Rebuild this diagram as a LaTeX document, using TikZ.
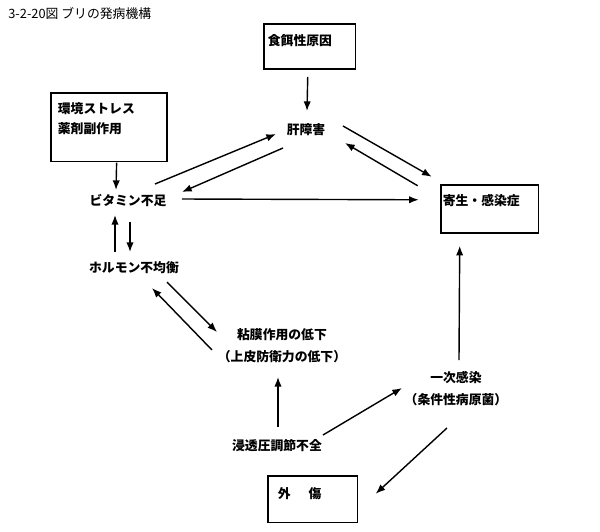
\documentclass[tikz,border=0pt]{standalone}
\usepackage{fontspec}
\setmainfont{Noto Sans CJK JP}
\usepackage{tikz}
\usetikzlibrary{arrows.meta,positioning}

\begin{document}
\begin{tikzpicture}[>={Latex[length=5.5pt,width=4.2pt]}, x=0.02cm, y=-0.02cm,
    font=\fontsize{7.3}{12.5}\selectfont\bfseries]
  \tikzstyle{lbl}=[inner sep=0pt, align=center]
  \tikzstyle{box}=[draw, line width=1pt, anchor=north west, align=left, inner ysep=0pt]
  \tikzstyle{arr}=[->, line width=0.8pt]
  \useasboundingbox (0,0) rectangle (600,532);

  \node[anchor=west, inner sep=0pt, font=\fontsize{7.3}{9}\selectfont\mdseries] (title) at (8,14) {3-2-20図 ブリの発病機構};

  \node[box, inner xsep=2.3pt, text width=47.6pt, text height=12.4pt, text depth=13.1pt] (food) at (263,23) {食餌性原因};
  \node[box, inner xsep=4pt, text width=58.3pt, text height=11.9pt, text depth=27.2pt,
        font=\fontsize{7.3}{11.3}\selectfont\bfseries] (env) at (50,92) {環境ストレス\\薬剤副作用};
  \node[box, inner xsep=1.1pt, text width=53.4pt, text height=11.9pt, text depth=15.3pt] (kiseii) at (440,184) {寄生・感染症};
  \node[box, inner xsep=5.7pt, text width=39.6pt, text height=13pt, text depth=13.6pt] (gaisho) at (267,475) {外\hspace{1.4em}傷};

  \node[lbl] (kan) at (306,130) {肝障害};
  \node[lbl] (vit) at (128,200) {ビタミン不足};
  \node[lbl] (horm) at (134,268) {ホルモン不均衡};
  \node[lbl] (nen) at (282,346) {粘膜作用の低下\\（上皮防衛力の低下）};
  \node[lbl] (shin) at (277,446) {浸透圧調節不全};
  \node[lbl] (ichiji) at (456,389) {一次感染\\（条件性病原菌）};

  \draw[arr] ([shift={(-2,30.5)}]food.center) -- ([shift={(1,-19)}]kan.center);
  \draw[arr] ([shift={(7.5,35.5)}]env.center) -- ([shift={(-12,-10)}]vit.center);
  \draw[arr] ([shift={(27,-16)}]vit.center) -- ([shift={(-30,4)}]kan.center);
  \draw[arr] ([shift={(-23,18)}]kan.center) -- ([shift={(54,-8)}]vit.center);
  \draw[arr] ([shift={(54,-1)}]vit.center) -- ([shift={(-71,-9)}]kiseii.center);
  \draw[arr] ([shift={(37,-4)}]kan.center) -- ([shift={(-58,-32)}]kiseii.center);
  \draw[arr] ([shift={(-72,-23)}]kiseii.center) -- ([shift={(39,13)}]kan.center);
  \draw[arr] ([shift={(2,22)}]vit.center) -- ([shift={(-4,-16)}]horm.center);
  \draw[arr] ([shift={(-19,-16)}]horm.center) -- ([shift={(-13,15)}]vit.center);
  \draw[arr] ([shift={(33,14)}]horm.center) -- ([shift={(-65,-14)}]nen.center);
  \draw[arr] ([shift={(-70,4)}]nen.center) -- ([shift={(18,20)}]horm.center);
  \draw[arr] ([shift={(1,-19)}]shin.center) -- ([shift={(-4,31)}]nen.center);
  \draw[arr] ([shift={(46,-11)}]shin.center) -- ([shift={(-54,-1)}]ichiji.center);
  \draw[arr] ([shift={(3,-29)}]ichiji.center) -- ([shift={(-30,37)}]kiseii.center);
  \draw[arr] ([shift={(-9,39)}]ichiji.center) -- ([shift={(63,-5.5)}]gaisho.center);
\end{tikzpicture}
\end{document}
